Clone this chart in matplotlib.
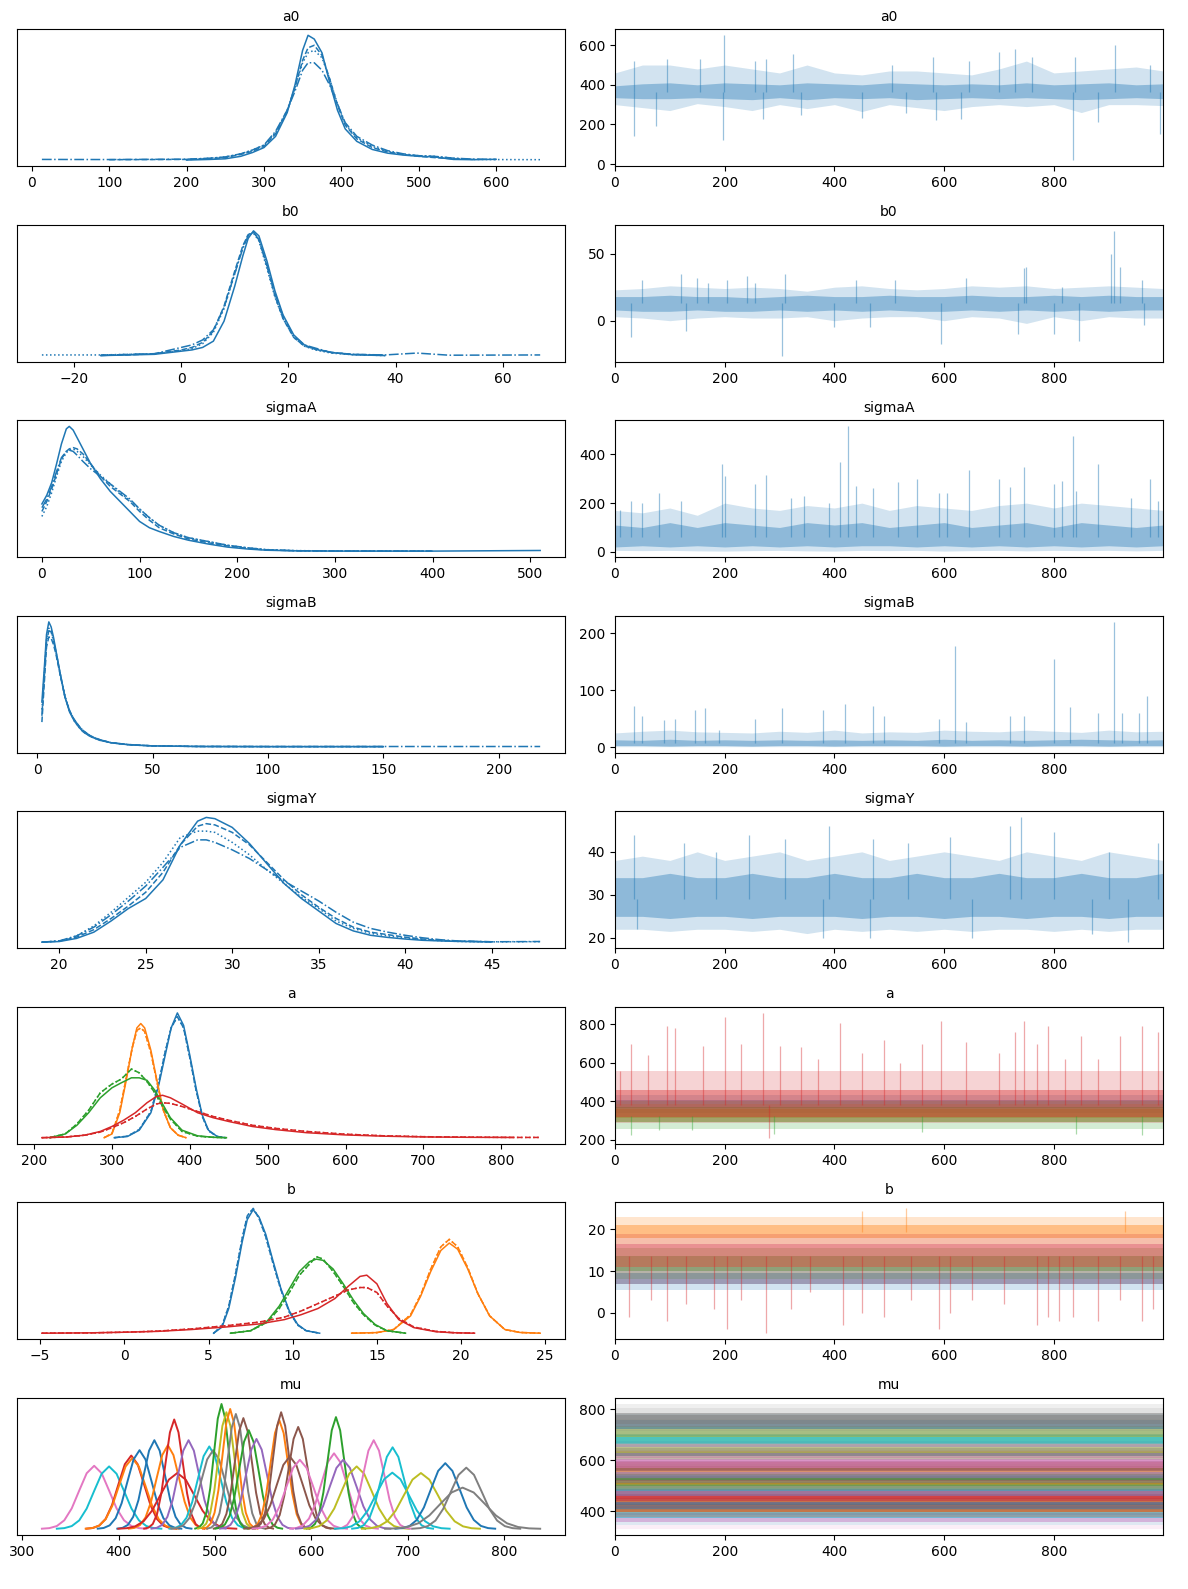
import numpy as np
import matplotlib
matplotlib.use("Agg")
import matplotlib.pyplot as plt

nan = np.nan
TAB = ["#1f77b4", "#ff7f0e", "#2ca02c", "#d62728", "#9467bd",
       "#8c564b", "#e377c2", "#7f7f7f", "#bcbd22", "#17becf"]
CHAIN_LS = ["-", "--", ":", "-."]

var_names = ["a0", "b0", "sigmaA", "sigmaB", "sigmaY", "a", "b", "mu"]

# ---------------- density curves (relative heights) ----------------
a0_x = [13, 100, 200, 230, 250, 270, 285, 300, 315, 330, 340, 350, 357, 365, 375, 385, 395, 405, 420, 440, 460, 480, 500, 520, 545, 570, 600, 657]
a0_y_c0 = [nan, nan, 0.0, 0.005, 0.01, 0.03, 0.06, 0.10, 0.19, 0.38, 0.60, 0.88, 1.00, 0.97, 0.86, 0.62, 0.40, 0.25, 0.15, 0.085, 0.055, 0.04, 0.03, 0.025, 0.005, 0.003, 0.006, nan]
a0_y_c1 = [nan, 0.003, 0.005, 0.01, 0.02, 0.045, 0.07, 0.11, 0.21, 0.39, 0.58, 0.80, 0.90, 0.92, 0.84, 0.65, 0.44, 0.28, 0.17, 0.10, 0.065, 0.045, 0.03, 0.02, 0.01, 0.005, nan, nan]
a0_y_c2 = [nan, nan, 0.003, 0.015, 0.025, 0.05, 0.08, 0.12, 0.22, 0.40, 0.58, 0.78, 0.86, 0.88, 0.82, 0.65, 0.45, 0.29, 0.18, 0.11, 0.07, 0.045, 0.035, 0.03, 0.015, 0.005, 0.004, 0.003]
a0_y_c3 = [0.005, 0.004, 0.007, 0.015, 0.025, 0.05, 0.08, 0.12, 0.23, 0.40, 0.55, 0.72, 0.78, 0.78, 0.72, 0.60, 0.45, 0.30, 0.19, 0.12, 0.075, 0.05, 0.035, 0.03, 0.015, 0.008, 0.005, nan]

b0_x = [-26, -15, -10, -5, 0, 2, 4, 6, 8, 10, 11.5, 12.5, 13.5, 14.5, 16, 17.5, 19, 21, 23, 25, 28, 32, 38, 44, 50, 67]
b0_y_c0 = [nan, 0.005, 0.01, 0.015, 0.04, 0.05, 0.07, 0.12, 0.28, 0.56, 0.80, 0.94, 1.0, 0.96, 0.76, 0.52, 0.33, 0.17, 0.09, 0.055, 0.03, 0.012, 0.005, nan, nan, nan]
b0_y_c1 = [nan, 0.01, 0.01, 0.02, 0.05, 0.07, 0.11, 0.20, 0.40, 0.68, 0.88, 0.97, 0.99, 0.93, 0.72, 0.48, 0.30, 0.15, 0.08, 0.06, 0.03, 0.015, 0.008, nan, nan, nan]
b0_y_c2 = [0.01, 0.01, 0.015, 0.02, 0.045, 0.06, 0.10, 0.19, 0.38, 0.66, 0.87, 0.97, 0.98, 0.92, 0.70, 0.47, 0.30, 0.15, 0.08, 0.05, 0.025, 0.012, 0.005, nan, nan, nan]
b0_y_c3 = [nan, 0.005, 0.015, 0.02, 0.07, 0.09, 0.13, 0.21, 0.39, 0.66, 0.86, 0.96, 0.99, 0.93, 0.73, 0.50, 0.32, 0.16, 0.09, 0.065, 0.03, 0.015, 0.01, 0.025, 0.008, 0.01]

sigmaA_x = [0, 5, 10, 15, 20, 25, 28, 32, 36, 42, 50, 60, 70, 80, 90, 100, 110, 120, 135, 150, 170, 190, 210, 230, 260, 300, 400, 510]
sigmaA_y_c0 = [0.38, 0.45, 0.55, 0.70, 0.86, 0.98, 1.0, 0.97, 0.91, 0.82, 0.70, 0.58, 0.48, 0.40, 0.32, 0.24, 0.19, 0.16, 0.12, 0.09, 0.06, 0.035, 0.02, 0.01, 0.005, 0.003, 0.003, 0.008]
sigmaA_y_c1 = [0.32, 0.40, 0.50, 0.62, 0.74, 0.80, 0.82, 0.83, 0.82, 0.78, 0.70, 0.60, 0.52, 0.46, 0.40, 0.32, 0.25, 0.19, 0.14, 0.10, 0.07, 0.045, 0.025, 0.012, 0.006, 0.004, 0.003, nan]
sigmaA_y_c2 = [0.28, 0.36, 0.47, 0.60, 0.72, 0.79, 0.81, 0.82, 0.80, 0.76, 0.69, 0.61, 0.54, 0.47, 0.41, 0.34, 0.27, 0.21, 0.15, 0.11, 0.08, 0.05, 0.03, 0.015, 0.007, 0.004, 0.003, nan]
sigmaA_y_c3 = [0.35, 0.42, 0.52, 0.64, 0.75, 0.80, 0.81, 0.80, 0.77, 0.72, 0.66, 0.60, 0.54, 0.48, 0.42, 0.34, 0.27, 0.21, 0.15, 0.11, 0.08, 0.05, 0.03, 0.014, 0.006, 0.004, 0.003, nan]

sigmaB_x = [2, 3, 4, 5, 6, 7, 8, 10, 12, 14, 16, 18, 20, 23, 27, 32, 40, 50, 70, 100, 150, 218]
sigmaB_y_c0 = [0.36, 0.62, 0.90, 1.0, 0.96, 0.88, 0.78, 0.58, 0.40, 0.28, 0.21, 0.16, 0.12, 0.085, 0.055, 0.035, 0.018, 0.01, 0.005, 0.004, 0.004, nan]
sigmaB_y_c1 = [0.20, 0.50, 0.80, 0.88, 0.87, 0.82, 0.75, 0.57, 0.40, 0.29, 0.22, 0.17, 0.13, 0.09, 0.06, 0.035, 0.02, 0.01, 0.005, 0.004, 0.004, nan]
sigmaB_y_c2 = [0.30, 0.58, 0.86, 0.95, 0.93, 0.86, 0.77, 0.58, 0.41, 0.29, 0.21, 0.16, 0.12, 0.085, 0.055, 0.035, 0.018, 0.01, 0.005, 0.004, 0.004, nan]
sigmaB_y_c3 = [0.25, 0.55, 0.84, 0.93, 0.92, 0.85, 0.77, 0.58, 0.40, 0.29, 0.22, 0.17, 0.13, 0.09, 0.06, 0.035, 0.02, 0.01, 0.006, 0.005, 0.005, 0.005]

sigmaY_x = [19, 20, 21, 22, 23, 24, 25, 26, 27, 28, 28.5, 29, 30, 31, 32, 33, 34, 35, 36, 37, 38, 39, 40, 41, 42, 43, 45, 47.8]
sigmaY_y_c0 = [0.0, 0.005, 0.03, 0.08, 0.17, 0.27, 0.35, 0.50, 0.78, 0.97, 1.0, 0.99, 0.92, 0.79, 0.63, 0.47, 0.35, 0.25, 0.15, 0.09, 0.055, 0.038, 0.025, 0.015, 0.01, 0.006, 0.002, nan]
sigmaY_y_c1 = [0.0, 0.008, 0.04, 0.10, 0.19, 0.29, 0.40, 0.56, 0.78, 0.93, 0.95, 0.94, 0.88, 0.78, 0.64, 0.50, 0.38, 0.28, 0.19, 0.12, 0.08, 0.06, 0.04, 0.025, 0.015, 0.008, 0.003, nan]
sigmaY_y_c2 = [0.0, 0.01, 0.05, 0.13, 0.24, 0.36, 0.48, 0.64, 0.84, 0.89, 0.89, 0.88, 0.80, 0.70, 0.58, 0.47, 0.36, 0.27, 0.17, 0.11, 0.07, 0.05, 0.035, 0.02, 0.012, 0.006, 0.002, 0.004]
sigmaY_y_c3 = [0.0, 0.01, 0.05, 0.12, 0.22, 0.33, 0.45, 0.60, 0.76, 0.82, 0.82, 0.80, 0.74, 0.67, 0.58, 0.49, 0.41, 0.33, 0.24, 0.16, 0.11, 0.08, 0.055, 0.035, 0.02, 0.01, 0.003, 0.005]

# vector "a": components 0..3 (two chain variants each)
a_x = [
    [303, 320, 335, 350, 360, 368, 376, 384, 392, 400, 408, 416, 424, 435, 445],
    [290, 300, 310, 318, 326, 332, 337, 342, 350, 358, 366, 375, 385, 395],
    [220, 240, 255, 270, 285, 300, 312, 325, 335, 345, 355, 365, 375, 390, 410, 430, 447],
    [210, 240, 265, 285, 300, 315, 330, 345, 357, 365, 375, 390, 410, 430, 450, 480, 510, 550, 600, 650, 700, 760, 815, 850],
]
a_y1 = [
    [0, 0.01, 0.06, 0.20, 0.42, 0.65, 0.88, 1.0, 0.90, 0.66, 0.40, 0.18, 0.06, 0.01, 0.0],
    [0, 0.03, 0.20, 0.45, 0.72, 0.88, 0.915, 0.88, 0.70, 0.45, 0.22, 0.08, 0.02, 0.0],
    [0, 0.03, 0.10, 0.20, 0.32, 0.40, 0.44, 0.48, 0.48, 0.46, 0.38, 0.27, 0.16, 0.06, 0.015, 0.003, 0.0],
    [0, 0.005, 0.02, 0.05, 0.09, 0.14, 0.20, 0.28, 0.33, 0.34, 0.32, 0.27, 0.20, 0.16, 0.13, 0.09, 0.065, 0.04, 0.022, 0.012, 0.006, 0.003, 0.002, nan],
]
a_y2 = [
    [0, 0.012, 0.065, 0.21, 0.44, 0.68, 0.88, 0.97, 0.88, 0.64, 0.38, 0.17, 0.055, 0.01, 0.0],
    [0, 0.035, 0.22, 0.47, 0.72, 0.86, 0.88, 0.85, 0.68, 0.44, 0.22, 0.08, 0.02, 0.0],
    [0, 0.03, 0.11, 0.22, 0.36, 0.43, 0.47, 0.55, 0.52, 0.45, 0.36, 0.25, 0.15, 0.05, 0.012, 0.003, 0.0],
    [0, 0.005, 0.02, 0.045, 0.08, 0.12, 0.17, 0.23, 0.27, 0.28, 0.275, 0.25, 0.21, 0.17, 0.14, 0.10, 0.075, 0.05, 0.028, 0.015, 0.008, 0.004, 0.002, 0.002],
]

# vector "b": components 0..3
b_x = [
    [5.3, 5.8, 6.2, 6.6, 7.0, 7.3, 7.65, 8.0, 8.4, 8.8, 9.3, 9.8, 10.3, 10.8, 11.6],
    [13.5, 15.0, 16.0, 17.0, 17.6, 18.2, 18.8, 19.3, 19.8, 20.4, 21.0, 21.7, 22.6, 23.5, 24.7],
    [6.3, 7.5, 8.5, 9.2, 9.8, 10.4, 11.0, 11.4, 11.8, 12.4, 13.0, 13.6, 14.2, 14.9, 15.6, 16.7],
    [-4.9, -2, 0, 2, 4, 6, 8, 9.5, 10.5, 11.5, 12.5, 13.3, 14.0, 14.4, 15.0, 15.6, 16.3, 17.2, 18.5, 19.5, 20.8],
]
b_y1 = [
    [0, 0.05, 0.20, 0.45, 0.74, 0.92, 1.0, 0.94, 0.80, 0.60, 0.36, 0.18, 0.07, 0.02, 0.0],
    [0, 0.005, 0.03, 0.14, 0.30, 0.50, 0.67, 0.73, 0.68, 0.52, 0.32, 0.14, 0.03, 0.006, 0.0],
    [0, 0.02, 0.10, 0.22, 0.36, 0.50, 0.58, 0.60, 0.59, 0.52, 0.40, 0.27, 0.16, 0.07, 0.02, 0.0],
    [0, 0.003, 0.008, 0.015, 0.03, 0.05, 0.075, 0.11, 0.15, 0.20, 0.28, 0.38, 0.46, 0.47, 0.40, 0.24, 0.11, 0.045, 0.012, 0.004, 0.0],
]
b_y2 = [
    [0, 0.06, 0.22, 0.48, 0.77, 0.95, 1.01, 0.93, 0.78, 0.58, 0.35, 0.17, 0.065, 0.02, 0.0],
    [0, 0.005, 0.03, 0.15, 0.31, 0.52, 0.70, 0.76, 0.70, 0.53, 0.32, 0.14, 0.03, 0.006, 0.0],
    [0, 0.02, 0.09, 0.20, 0.33, 0.47, 0.56, 0.62, 0.60, 0.50, 0.38, 0.25, 0.15, 0.065, 0.02, 0.0],
    [0, 0.003, 0.008, 0.017, 0.035, 0.06, 0.09, 0.13, 0.18, 0.24, 0.30, 0.35, 0.37, 0.37, 0.33, 0.22, 0.12, 0.05, 0.015, 0.005, 0.0],
]

# vector "mu": per component centre, peak height, spread, colour index
mu_center = [374.5, 390, 413, 414, 421.6, 437, 451, 457.6, 460.8, 472.5, 494, 498, 506.7, 511.8, 515.7, 521.6, 529.4, 535, 543,
             566.7, 568.6, 577.6, 586.3, 588, 623.5, 625.5, 633, 647, 664.7, 684.3, 684, 713.7, 739, 760.8, 757]
mu_height = [0.505, 0.50, 0.587, 0.566, 0.63, 0.71, 0.67, 0.876, 0.447, 0.71, 0.66, 0.63, 1.0, 0.934, 0.96, 0.92, 0.887, 0.79, 0.72,
             0.87, 0.934, 0.58, 0.816, 0.553, 0.605, 0.895, 0.553, 0.50, 0.71, 0.653, 0.45, 0.447, 0.526, 0.49, 0.33]
mu_spread = [15.5, 15.5, 13.3, 13.8, 12.4, 11.0, 11.6, 8.9, 17.5, 11.0, 11.8, 12.4, 7.8, 8.4, 8.1, 8.5, 8.8, 9.9, 10.8,
             9.0, 8.4, 13.5, 9.6, 14.0, 13.0, 8.7, 14.0, 15.5, 11.0, 12.0, 17.0, 17.5, 14.8, 16.0, 23.0]
mu_color = [6, 9, 3, 1, 0, 0, 1, 3, 3, 4, 9, 7, 2, 8, 1, 7, 5, 2, 4,
            1, 5, 5, 5, 6, 6, 2, 4, 8, 6, 9, 9, 8, 0, 7, 7]
# typical bell profile (offset in spreads, relative height)
bell_u = [-3.5, -3, -2.5, -2, -1.5, -1, -0.5, 0, 0.5, 1, 1.5, 2, 2.5, 3, 3.5]
bell_h = [0.002, 0.011, 0.044, 0.135, 0.325, 0.607, 0.882, 1.0, 0.882, 0.607, 0.325, 0.135, 0.044, 0.011, 0.002]

# ---------------- trace data (band edges) ----------------
trace_draws = [0, 50, 100, 150, 200, 250, 300, 350, 400, 450, 500, 550, 600, 650, 700, 750, 800, 850, 900, 950, 999]

a0_center = 365
a0_core_lo = [335, 330, 330, 335, 330, 325, 335, 325, 335, 330, 335, 325, 330, 335, 330, 335, 330, 325, 330, 335, 330]
a0_core_hi = [395, 405, 410, 400, 410, 405, 400, 410, 405, 400, 410, 405, 400, 405, 400, 410, 400, 405, 410, 400, 405]
a0_out_lo = [300, 285, 270, 305, 290, 270, 300, 280, 300, 265, 300, 285, 270, 290, 300, 290, 300, 260, 300, 300, 295]
a0_out_hi = [460, 500, 500, 480, 500, 480, 460, 500, 460, 450, 470, 470, 460, 450, 480, 520, 460, 470, 480, 490, 470]
a0_spike_x = [35, 35, 75, 95, 155, 198, 197, 255, 275, 270, 325, 340, 450, 505, 530, 580, 585, 630, 645, 700, 730, 760, 835, 838, 880, 912, 993, 975]
a0_spike_v = [520, 140, 190, 530, 530, 650, 120, 520, 530, 225, 555, 250, 230, 500, 260, 540, 220, 225, 520, 565, 580, 540, 20, 540, 210, 600, 150, 500]

b0_center = 13
b0_core_lo = [8, 7, 7, 8, 7, 7, 8, 7, 8, 7, 8, 7, 7, 8, 7, 8, 7, 8, 7, 8, 8]
b0_core_hi = [18, 18, 19, 18, 18, 17, 18, 19, 18, 18, 19, 18, 18, 19, 18, 18, 19, 18, 19, 18, 18]
b0_out_lo = [3, 2, 0, 2, 3, 2, 2, 3, 0, 2, 3, 3, 0, 3, 2, -2, 3, 0, 3, 2, 2]
b0_out_hi = [23, 24, 26, 25, 24, 25, 24, 22, 25, 26, 24, 23, 24, 26, 25, 26, 24, 25, 26, 25, 24]
b0_spike_x = [30, 50, 120, 130, 150, 170, 205, 240, 255, 305, 310, 400, 440, 465, 510, 595, 640, 735, 745, 750, 800, 815, 845, 910, 905, 920, 960, 965]
b0_spike_v = [-12, 30, 35, -8, 32, 28, 30, 33, 28, -26, 35, -5, 30, -5, 30, -17, 32, -10, 39, 40, -10, 25, -15, 67, 50, 40, 30, -3]

sigmaA_center = 60
sigmaA_core_lo = [20, 25, 20, 25, 20, 25, 20, 25, 20, 25, 25, 20, 25, 20, 25, 20, 25, 20, 25, 20, 25]
sigmaA_core_hi = [110, 100, 120, 100, 120, 110, 100, 120, 110, 120, 100, 110, 120, 100, 110, 120, 100, 120, 110, 100, 110]
sigmaA_out_lo = [6, 5, 6, 4, 3, 5, 6, 4, 3, 6, 5, 6, 3, 5, 6, 4, 6, 5, 6, 4, 6]
sigmaA_out_hi = [170, 160, 180, 150, 200, 180, 170, 190, 180, 200, 170, 190, 180, 170, 190, 200, 180, 200, 190, 180, 170]
sigmaA_spike_x = [10, 30, 50, 80, 120, 195, 200, 255, 275, 320, 345, 390, 410, 425, 440, 470, 515, 550, 590, 605, 645, 700, 720, 745, 800, 815, 835, 840, 880, 940, 975, 990]
sigmaA_spike_v = [170, 210, 200, 240, 210, 360, 310, 280, 315, 220, 230, 200, 370, 515, 270, 260, 285, 300, 240, 240, 335, 300, 265, 350, 280, 290, 475, 250, 360, 220, 300, 210]

sigmaB_center = 7
sigmaB_core_lo = [3, 3, 2, 3, 3, 2, 3, 3, 2, 3, 3, 3, 2, 3, 3, 2, 3, 3, 2, 3, 3]
sigmaB_core_hi = [13, 12, 14, 12, 13, 12, 13, 12, 13, 12, 13, 12, 14, 12, 13, 12, 13, 14, 13, 12, 13]
sigmaB_out_lo = [1, 1, 1, 1, 1, 1, 1, 1, 1, 1, 1, 1, 1, 1, 1, 1, 1, 1, 1, 1, 1]
sigmaB_out_hi = [25, 28, 30, 27, 26, 25, 28, 26, 30, 25, 27, 26, 30, 28, 27, 30, 28, 26, 30, 27, 28]
sigmaB_spike_x = [35, 50, 90, 110, 145, 165, 190, 255, 305, 380, 420, 470, 490, 590, 620, 640, 720, 745, 800, 830, 880, 910, 925, 955, 970]
sigmaB_spike_v = [73, 55, 48, 50, 65, 68, 30, 50, 68, 65, 76, 72, 55, 50, 178, 45, 55, 55, 155, 70, 60, 220, 60, 60, 90]

sigmaY_center = 29
sigmaY_core_lo = [25, 25, 24.5, 25, 25, 24.5, 25, 25, 25, 24.5, 25, 25, 24.5, 25, 25, 24.5, 25, 25, 24.5, 25, 25]
sigmaY_core_hi = [34, 34, 35, 34, 34, 35, 34, 34, 35, 34, 34, 35, 34, 34, 35, 34, 34, 35, 34, 34, 35]
sigmaY_out_lo = [22, 22, 21.5, 22, 22, 21.5, 22, 21, 22, 21.5, 22, 21.5, 22, 21.5, 22, 22, 21.5, 22, 21.5, 22, 22]
sigmaY_out_hi = [38, 39, 38, 40, 38, 39, 40, 38, 39, 40, 38, 39, 40, 39, 38, 40, 39, 38, 40, 39, 38]
sigmaY_spike_x = [35, 40, 125, 185, 245, 310, 380, 390, 465, 470, 535, 610, 650, 720, 740, 800, 870, 900, 935, 990]
sigmaY_spike_v = [44, 22, 42, 40, 44, 43, 20, 46, 20, 43, 42, 43.5, 20, 46, 48, 44.5, 21, 40, 19, 42]

# vector traces: constant bands per component + spikes
a_core_lo = [365, 315, 290, 320]
a_core_hi = [405, 360, 370, 460]
a_out_lo = [340, 290, 255, 285]
a_out_hi = [430, 385, 400, 560]
a_center = [384, 335, 325, 380]
a_spike_comp = [3] * 31 + [2] * 7
a_spike_x = [10, 30, 60, 95, 110, 160, 200, 230, 270, 280, 300, 340, 370, 410, 450, 490, 520, 560, 595, 640, 700, 730, 745, 770, 790, 820, 850, 880, 920, 960, 990,
             30, 80, 140, 290, 560, 840, 960]
a_spike_v = [560, 700, 640, 790, 780, 690, 840, 700, 860, 210, 690, 680, 620, 810, 650, 720, 600, 700, 820, 710, 650, 760, 820, 700, 790, 620, 740, 620, 740, 790, 760,
             225, 250, 250, 230, 240, 230, 225]

b_core_lo = [7.0, 18.0, 10.0, 11.0]
b_core_hi = [9.5, 21.0, 13.5, 16.5]
b_out_lo = [5.5, 16.5, 8.0, 7.0]
b_out_hi = [11.0, 23.0, 15.5, 19.0]
b_center = [8.0, 19.3, 11.5, 13.5]
b_spike_comp = [3] * 26 + [1] * 3
b_spike_x = [25, 65, 95, 130, 180, 205, 230, 275, 320, 355, 415, 450, 490, 540, 590, 610, 650, 710, 770, 790, 810, 835, 880, 920, 960, 980,
             450, 530, 930]
b_spike_v = [-1, 3, -2, 2, 1, -4, 3, -4.9, 1, 5, -3, 0, -1, 3, -4, 0, 3, 2, -3, -1, -2, -1, -2, 3, -2, 1,
             24.5, 25, 24.5]

# ---------------- figure ----------------
plt.rcParams["font.family"] = ["DejaVu Sans"]
fig, axes = plt.subplots(8, 2, figsize=(11.88, 15.89), dpi=100)
fig.subplots_adjust(left=0.0143, right=0.979, top=0.9817, bottom=0.034, wspace=0.091, hspace=0.425)

DLW = 1.1


def density_scalar(ax, x, ys):
    for ls, y in zip(CHAIN_LS, ys):
        ax.plot(x, y, ls=ls, color=TAB[0], lw=DLW)


def trace_scalar(ax, clo, chi, olo, ohi, center, sx, sv):
    ax.fill_between(trace_draws, olo, ohi, color=TAB[0], alpha=0.2, lw=0)
    ax.fill_between(trace_draws, clo, chi, color=TAB[0], alpha=0.38, lw=0)
    ax.vlines(sx, center, sv, color=TAB[0], alpha=0.45, lw=0.9)


scalar = [
    ("a0", a0_x, [a0_y_c0, a0_y_c1, a0_y_c2, a0_y_c3],
     a0_core_lo, a0_core_hi, a0_out_lo, a0_out_hi, a0_center, a0_spike_x, a0_spike_v),
    ("b0", b0_x, [b0_y_c0, b0_y_c1, b0_y_c2, b0_y_c3],
     b0_core_lo, b0_core_hi, b0_out_lo, b0_out_hi, b0_center, b0_spike_x, b0_spike_v),
    ("sigmaA", sigmaA_x, [sigmaA_y_c0, sigmaA_y_c1, sigmaA_y_c2, sigmaA_y_c3],
     sigmaA_core_lo, sigmaA_core_hi, sigmaA_out_lo, sigmaA_out_hi, sigmaA_center, sigmaA_spike_x, sigmaA_spike_v),
    ("sigmaB", sigmaB_x, [sigmaB_y_c0, sigmaB_y_c1, sigmaB_y_c2, sigmaB_y_c3],
     sigmaB_core_lo, sigmaB_core_hi, sigmaB_out_lo, sigmaB_out_hi, sigmaB_center, sigmaB_spike_x, sigmaB_spike_v),
    ("sigmaY", sigmaY_x, [sigmaY_y_c0, sigmaY_y_c1, sigmaY_y_c2, sigmaY_y_c3],
     sigmaY_core_lo, sigmaY_core_hi, sigmaY_out_lo, sigmaY_out_hi, sigmaY_center, sigmaY_spike_x, sigmaY_spike_v),
]

for i, (name, x, ys, clo, chi, olo, ohi, cen, sx, sv) in enumerate(scalar):
    density_scalar(axes[i, 0], x, ys)
    trace_scalar(axes[i, 1], clo, chi, olo, ohi, cen, sx, sv)

# vector a and b
for row, (xs, y1s, y2s, clo, chi, olo, ohi, cen, scomp, sx, sv) in [
    (5, (a_x, a_y1, a_y2, a_core_lo, a_core_hi, a_out_lo, a_out_hi, a_center, a_spike_comp, a_spike_x, a_spike_v)),
    (6, (b_x, b_y1, b_y2, b_core_lo, b_core_hi, b_out_lo, b_out_hi, b_center, b_spike_comp, b_spike_x, b_spike_v)),
]:
    axd, axt = axes[row, 0], axes[row, 1]
    for k in range(len(xs)):
        col = TAB[k]
        axd.plot(xs[k], y1s[k], ls="-", color=col, lw=DLW)
        axd.plot(xs[k], y2s[k], ls="--", color=col, lw=DLW)
        axd.plot(xs[k], y2s[k], ls=":", color=col, lw=DLW)
        axt.fill_between([trace_draws[0], trace_draws[-1]], [olo[k]] * 2, [ohi[k]] * 2, color=col, alpha=0.2, lw=0)
        axt.fill_between([trace_draws[0], trace_draws[-1]], [clo[k]] * 2, [chi[k]] * 2, color=col, alpha=0.38, lw=0)
        idx = [j for j, c in enumerate(scomp) if c == k]
        if idx:
            axt.vlines([sx[j] for j in idx], cen[k], [sv[j] for j in idx], color=col, alpha=0.4, lw=0.9)

# vector mu
axd, axt = axes[7, 0], axes[7, 1]
bu = np.array(bell_u)
bh = np.array(bell_h)
for c, h, s, ci in zip(mu_center, mu_height, mu_spread, mu_color):
    col = TAB[ci]
    axd.plot(c + s * bu, h * bh, ls="-", color=col, lw=1.4)
    axt.fill_between([trace_draws[0], trace_draws[-1]], [c - 2.8 * s] * 2, [c + 2.8 * s] * 2, color=col, alpha=0.12, lw=0)
    axt.fill_between([trace_draws[0], trace_draws[-1]], [c - 1.2 * s] * 2, [c + 1.2 * s] * 2, color=col, alpha=0.5, lw=0)

for i, name in enumerate(var_names):
    axd, axt = axes[i, 0], axes[i, 1]
    axd.set_yticks([])
    axd.set_title(name, fontsize=10)
    axt.set_title(name, fontsize=10)
    axt.set_xlim(0, 999)
    for ax in (axd, axt):
        ax.tick_params(labelsize=10)

fig.savefig("out.png", dpi=100)
